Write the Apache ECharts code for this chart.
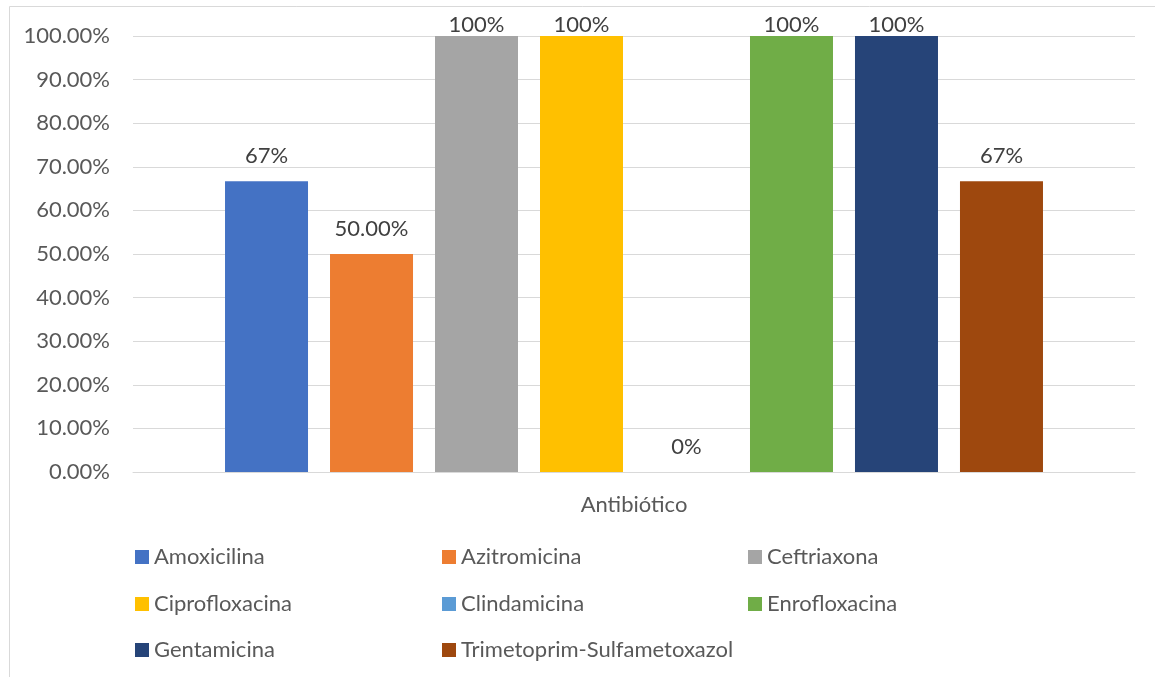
<!DOCTYPE html>
<html>
<head>
<meta charset="utf-8">
<script src="https://cdn.jsdelivr.net/npm/echarts@6/dist/echarts.min.js"></script>
<style>
  html, body { margin: 0; padding: 0; background: #fff; }
  #chart { width: 1155px; height: 677px; }
</style>
</head>
<body>
<div id="chart"></div>
<script>
// Resistance share per antibiotic (fraction of isolates)
const categories = ['Antibiótico'];
const antibiotics = ['Amoxicilina', 'Azitromicina', 'Ceftriaxona', 'Ciprofloxacina',
  'Clindamicina', 'Enrofloxacina', 'Gentamicina', 'Trimetoprim-Sulfametoxazol'];
const values = [0.6667, 0.5, 1, 1, 0, 1, 1, 0.6667];
const valueLabels = ['67%', '50.00%', '100%', '100%', '0%', '100%', '100%', '67%'];
const colors = ['#4472C4', '#ED7D31', '#A5A5A5', '#FFC000', '#5B9BD5', '#70AD47', '#264478', '#9E480E'];

const FONT = 'Lato';
const TEXT = '#595959';
const SIZE = 22;

const series = antibiotics.map((name, i) => ({
  name: name,
  type: 'bar',
  data: [values[i]],
  barWidth: 83,
  barGap: '26.5%',
  itemStyle: { color: colors[i] },
  label: {
    show: true,
    position: 'top',
    distance: values[i] >= 1 ? 0 : 14,
    formatter: () => valueLabels[i],
    color: '#404040',
    fontFamily: FONT,
    fontSize: SIZE
  }
}));

// Legend laid out in three columns, one legend component per entry
const legendCols = [135, 442, 748];
const legendRows = [546, 593, 639];
const legends = antibiotics.map((name, i) => ({
  data: [name],
  left: legendCols[i % 3],
  top: legendRows[Math.floor(i / 3)],
  padding: 0,
  itemWidth: 14,
  itemHeight: 14,
  itemGap: 0,
  icon: 'rect',
  selectedMode: false,
  textStyle: { color: TEXT, fontFamily: FONT, fontSize: SIZE, lineHeight: 22 }
}));

const chart = echarts.init(document.getElementById('chart'), null, { renderer: 'canvas' });
chart.setOption({
  animation: false,
  backgroundColor: '#fff',
  textStyle: { fontFamily: FONT },
  graphic: [{
    type: 'rect',
    shape: { x: 9.5, y: 6.5, width: 1200, height: 800 },
    style: { fill: 'none', stroke: '#D9D9D9', lineWidth: 1 },
    silent: true
  }],
  grid: { left: 133, right: 20, top: 36, bottom: 205 },
  legend: legends,
  xAxis: {
    type: 'category',
    data: categories,
    axisLine: { show: true, lineStyle: { color: '#D9D9D9', width: 1 } },
    axisTick: { show: false },
    axisLabel: { show: true, color: TEXT, fontFamily: FONT, fontSize: SIZE, margin: 22 }
  },
  yAxis: {
    type: 'value',
    min: 0,
    max: 1,
    interval: 0.1,
    axisLine: { show: false },
    axisTick: { show: false },
    splitLine: { lineStyle: { color: '#D9D9D9', width: 1 } },
    axisLabel: {
      color: TEXT, fontFamily: FONT, fontSize: SIZE, margin: 23,
      formatter: v => (v * 100).toFixed(2) + '%'
    }
  },
  series: series
});
</script>
</body>
</html>
